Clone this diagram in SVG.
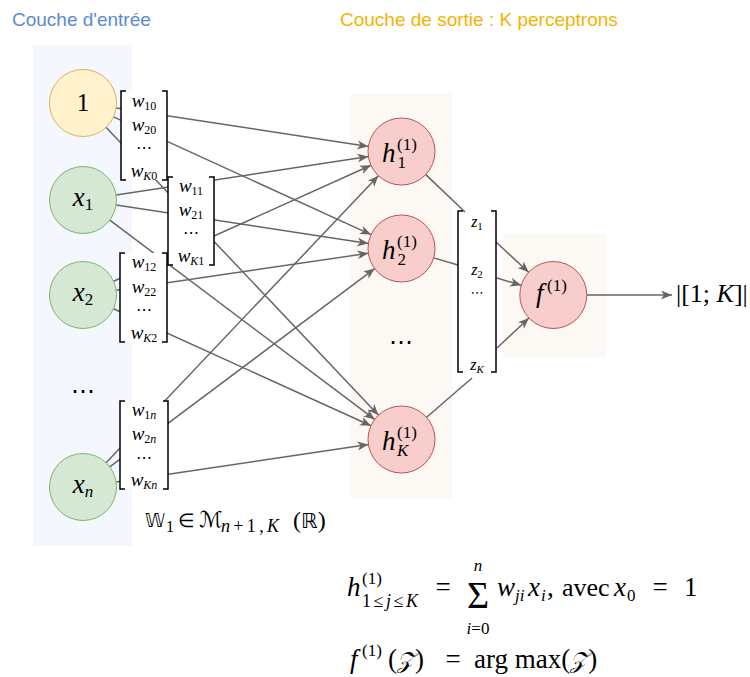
<svg xmlns="http://www.w3.org/2000/svg" width="750" height="677" viewBox="0 0 750 677">
<defs>
<marker id="ah" markerUnits="userSpaceOnUse" markerWidth="12" markerHeight="10" refX="11" refY="4.5" orient="auto">
<path d="M0,0 L11,4.5 L0,9 L3,4.5 z" fill="#666"/>
</marker>
<style>
.edge{stroke:#666;stroke-width:1.5;fill:none}
.arr{marker-end:url(#ah)}
.br{stroke:#000;stroke-width:1.5;fill:none}
.mat{fill:#fff;stroke:none}
.m{font-family:"Liberation Serif","DejaVu Serif",serif;fill:#000}
.s{font-family:"DejaVu Sans","DejaVu Serif",serif;fill:#000}
.it{font-style:italic}
.title{font-family:"Liberation Sans",Arial,sans-serif;font-size:19px}
.in{fill:#d5e8d4;stroke:#82b366;stroke-width:1}
.one{fill:#fff2cc;stroke:#d6b656;stroke-width:1}
.hid{fill:#f8cecc;stroke:#b85450;stroke-width:1}
</style>
</defs>
<rect width="750" height="677" fill="#fff"/>
<rect x="33" y="45" width="99" height="501" fill="#f4f8fe"/>
<rect x="351" y="93" width="101" height="405" fill="#fcf8f3"/>
<rect x="503" y="234" width="103" height="123" fill="#fcf8f3"/>
<text class="title" x="12" y="26" fill="#5b8ad4">Couche d'entrée</text>
<text class="title" x="340" y="26" fill="#f2b400">Couche de sortie : K perceptrons</text>

<g id="connectors">
<line class="edge arr" x1="116.1" y1="108" x2="368.4" y2="146.5"/>
<line class="edge arr" x1="113.5" y1="116.9" x2="371" y2="234.6"/>
<line class="edge arr" x1="106" y1="127.3" x2="378.5" y2="415.2"/>
<line class="edge arr" x1="116.1" y1="195" x2="368.4" y2="156.5"/>
<line class="edge arr" x1="116.1" y1="205" x2="368.4" y2="243.5"/>
<line class="edge arr" x1="109.8" y1="220.1" x2="374.7" y2="419.4"/>
<line class="edge arr" x1="113.5" y1="281.2" x2="371" y2="165.3"/>
<line class="edge arr" x1="116.1" y1="290.2" x2="368.4" y2="253.3"/>
<line class="edge arr" x1="113.5" y1="308.8" x2="371" y2="425.7"/>
<line class="edge arr" x1="106.1" y1="462.7" x2="378.4" y2="175.8"/>
<line class="edge arr" x1="109.8" y1="466.9" x2="374.7" y2="268.6"/>
<line class="edge arr" x1="116.1" y1="482.1" x2="368.4" y2="444.4"/>
<line class="edge" x1="425.8" y1="174.6" x2="465" y2="212"/>
<line class="edge" x1="433.7" y1="257.9" x2="458" y2="265"/>
<line class="edge" x1="426.6" y1="417.2" x2="472" y2="378"/>
<line class="edge arr" x1="496" y1="242" x2="528.7" y2="272.3"/>
<line class="edge arr" x1="497" y1="278" x2="521.2" y2="285.3"/>
<line class="edge arr" x1="497" y1="348" x2="528.9" y2="318"/>
<line class="edge arr" x1="587" y1="295" x2="672" y2="295"/>
</g>

<g id="W0">
<rect class="mat" x="121" y="91" width="46" height="89"/>
<path class="br" d="M126,91 H121 V180 H126 M162,91 H167 V180 H162"/>
<text class="m" x="144" y="107" text-anchor="middle" font-size="19"><tspan class="it">w</tspan><tspan font-size="12" dy="3">10</tspan></text>
<text class="m" x="144" y="131" text-anchor="middle" font-size="19"><tspan class="it">w</tspan><tspan font-size="12" dy="3">20</tspan></text>
<text class="s" x="144" y="153" text-anchor="middle" font-size="16">⋯</text>
<text class="m" x="144" y="177" text-anchor="middle" font-size="19"><tspan class="it">w</tspan><tspan font-size="12" dy="3" class="it">K</tspan><tspan font-size="12">0</tspan></text>
</g>
<g id="W1">
<rect class="mat" x="168" y="177" width="46" height="88"/>
<path class="br" d="M173,177 H168 V265 H173 M209,177 H214 V265 H209"/>
<text class="m" x="191" y="192" text-anchor="middle" font-size="19"><tspan class="it">w</tspan><tspan font-size="12" dy="3">11</tspan></text>
<text class="m" x="191" y="216" text-anchor="middle" font-size="19"><tspan class="it">w</tspan><tspan font-size="12" dy="3">21</tspan></text>
<text class="s" x="191" y="238" text-anchor="middle" font-size="16">⋯</text>
<text class="m" x="191" y="262" text-anchor="middle" font-size="19"><tspan class="it">w</tspan><tspan font-size="12" dy="3" class="it">K</tspan><tspan font-size="12">1</tspan></text>
</g>
<g id="W2">
<rect class="mat" x="120" y="253" width="47" height="89"/>
<path class="br" d="M125,253 H120 V342 H125 M162,253 H167 V342 H162"/>
<text class="m" x="144" y="268" text-anchor="middle" font-size="19"><tspan class="it">w</tspan><tspan font-size="12" dy="3">12</tspan></text>
<text class="m" x="144" y="293" text-anchor="middle" font-size="19"><tspan class="it">w</tspan><tspan font-size="12" dy="3">22</tspan></text>
<text class="s" x="144" y="315" text-anchor="middle" font-size="16">⋯</text>
<text class="m" x="144" y="339" text-anchor="middle" font-size="19"><tspan class="it">w</tspan><tspan font-size="12" dy="3" class="it">K</tspan><tspan font-size="12">2</tspan></text>
</g>
<g id="Wn">
<rect class="mat" x="120" y="401" width="48" height="88"/>
<path class="br" d="M125,401 H120 V489 H125 M163,401 H168 V489 H163"/>
<text class="m" x="144" y="416" text-anchor="middle" font-size="19"><tspan class="it">w</tspan><tspan font-size="12" dy="3">1</tspan><tspan font-size="12" class="it">n</tspan></text>
<text class="m" x="144" y="440" text-anchor="middle" font-size="19"><tspan class="it">w</tspan><tspan font-size="12" dy="3">2</tspan><tspan font-size="12" class="it">n</tspan></text>
<text class="s" x="144" y="463" text-anchor="middle" font-size="16">⋯</text>
<text class="m" x="144" y="486" text-anchor="middle" font-size="19"><tspan class="it">w</tspan><tspan font-size="12" dy="3" class="it">Kn</tspan></text>
</g>

<g id="Z">
<path class="br" d="M463,211 H458 V372 H463 M491,211 H496 V372 H491"/>
<text class="m" x="477" y="227" text-anchor="middle" font-size="16"><tspan class="it">z</tspan><tspan font-size="11" dy="3">1</tspan></text>
<text class="m" x="477" y="275" text-anchor="middle" font-size="16"><tspan class="it">z</tspan><tspan font-size="11" dy="3">2</tspan></text>
<text class="s" x="477" y="297" text-anchor="middle" font-size="13">⋯</text>
<text class="m" x="477" y="370" text-anchor="middle" font-size="16"><tspan class="it">z</tspan><tspan font-size="11" dy="3" class="it">K</tspan></text>
</g>

<g id="n0">
<circle class="one" cx="83" cy="103" r="33.5"/>
<text class="m" x="83" y="111" text-anchor="middle" font-size="25">1</text>
</g>
<g id="n1">
<circle class="in" cx="83" cy="200" r="33.5"/>
<text class="m" x="83" y="206" text-anchor="middle" font-size="27"><tspan class="it">x</tspan><tspan font-size="17" dy="4">1</tspan></text>
</g>
<g id="n2">
<circle class="in" cx="83" cy="295" r="33.5"/>
<text class="m" x="83" y="301" text-anchor="middle" font-size="27"><tspan class="it">x</tspan><tspan font-size="17" dy="4">2</tspan></text>
</g>
<text class="s" x="83" y="399" text-anchor="middle" font-size="24">⋯</text>
<g id="nn">
<circle class="in" cx="83" cy="487" r="33.5"/>
<text class="m" x="83" y="493" text-anchor="middle" font-size="27"><tspan class="it">x</tspan><tspan font-size="17" dy="4" class="it">n</tspan></text>
</g>

<g id="h1">
<circle class="hid" cx="401.5" cy="151.5" r="33.5"/>
<text class="m it" x="382" y="161.5" font-size="27">h</text>
<text class="m" x="397" y="150" font-size="17">(1)</text>
<text class="m" x="397.5" y="168" font-size="17">1</text>
</g>
<g id="h2">
<circle class="hid" cx="401.5" cy="248.5" r="33.5"/>
<text class="m it" x="382" y="258.5" font-size="27">h</text>
<text class="m" x="397" y="247" font-size="17">(1)</text>
<text class="m" x="397.5" y="265" font-size="17">2</text>
</g>
<text class="s" x="401" y="350" text-anchor="middle" font-size="24">⋯</text>
<g id="hK">
<circle class="hid" cx="401.5" cy="439.5" r="33.5"/>
<text class="m it" x="382" y="449.5" font-size="27">h</text>
<text class="m" x="397" y="438" font-size="17">(1)</text>
<text class="m it" x="397" y="456" font-size="17">K</text>
</g>
<g id="f">
<circle class="hid" cx="553.3" cy="295" r="33.5"/>
<text class="m it" x="536" y="302" font-size="27">f</text>
<text class="m" x="547" y="291" font-size="17">(1)</text>
</g>
<text class="m" x="676" y="302" font-size="26">|[1; <tspan class="it">K</tspan>]|</text>

<g id="W-label">
<text class="s" x="145" y="527" font-size="19" textLength="20" lengthAdjust="spacingAndGlyphs">𝕎</text>
<text class="m" x="166" y="532" font-size="16">1</text>
<text class="s" x="178" y="527" font-size="19">∈</text>
<text class="s it" x="199" y="527" font-size="22">ℳ</text>
<text class="m" x="221" y="532" font-size="18" textLength="58" lengthAdjust="spacing"><tspan class="it">n</tspan>+1,<tspan class="it">K</tspan></text>
<text class="m" x="293" y="528" font-size="24">(<tspan class="s" font-size="21">ℝ</tspan>)</text>
</g>

<g id="formula1">
<text class="m it" x="347" y="596" font-size="27">h</text>
<text class="m" x="362" y="584" font-size="17">(1)</text>
<text class="m" x="362" y="607" font-size="18" textLength="56" lengthAdjust="spacing">1≤<tspan class="it">j</tspan>≤<tspan class="it">K</tspan></text>
<text class="m" x="443" y="596" text-anchor="middle" font-size="27">=</text>
<text class="m" x="478" y="608" text-anchor="middle" font-size="38">Σ</text>
<text class="m it" x="478" y="571" text-anchor="middle" font-size="17">n</text>
<text class="m" x="478" y="634" text-anchor="middle" font-size="17"><tspan class="it">i</tspan>=0</text>
<text class="m it" x="497" y="596" font-size="27">w</text>
<text class="m it" x="515" y="601" font-size="17">ji</text>
<text class="m it" x="528" y="596" font-size="27">x</text>
<text class="m it" x="541" y="601" font-size="17">i</text>
<text class="m" x="547" y="596" font-size="27">,</text>
<text class="m" x="562" y="596" font-size="26">avec</text>
<text class="m it" x="614" y="596" font-size="27">x</text>
<text class="m" x="627" y="601" font-size="17">0</text>
<text class="m" x="660" y="596" text-anchor="middle" font-size="27">=</text>
<text class="m" x="684" y="596" font-size="27">1</text>
</g>
<g id="formula2">
<text class="m it" x="350" y="668" font-size="27">f</text>
<text class="m" x="362" y="656" font-size="17">(1)</text>
<text class="m" x="388" y="668" font-size="27">(<tspan class="s it" font-size="23">𝒵</tspan>)</text>
<text class="m" x="453" y="668" text-anchor="middle" font-size="27">=</text>
<text class="m" x="474" y="668" font-size="27">arg max(<tspan class="s it" font-size="23">𝒵</tspan>)</text>
</g>
</svg>
